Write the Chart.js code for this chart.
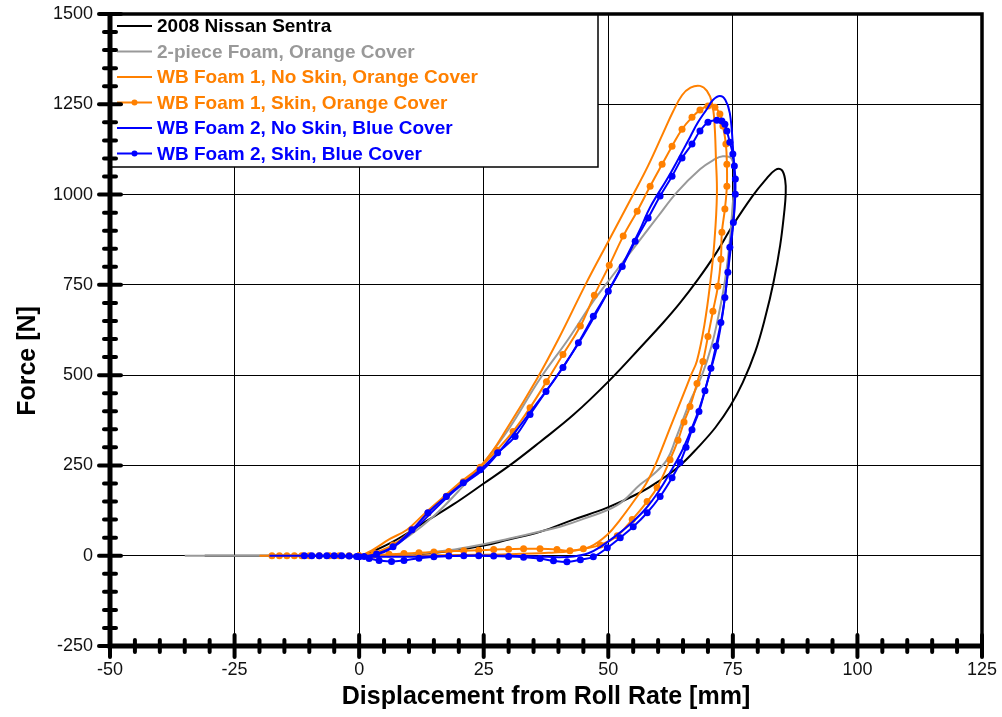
<!DOCTYPE html>
<html>
<head>
<meta charset="utf-8">
<script src="https://cdn.jsdelivr.net/npm/chart.js@4.4.0/dist/chart.umd.min.js"></script>
<style>
  body { margin: 0; background: #fff; }
  canvas { display: block; }
</style>
</head>
<body>
<canvas id="forceChart" width="1002" height="717"></canvas>
<script>
// valeurs (mm, N)
const xTicks = [-50, -25, 0, 25, 50, 75, 100, 125];
const yTicks = [-250, 0, 250, 500, 750, 1000, 1250, 1500];

const sentraX = [-31, -15, 0, 1.2, 6.8, 12.9, 18.9, 25, 30.7, 36.3, 43, 50, 57, 61, 64.4, 68, 71.5, 75, 78.9, 81.5, 83.5, 84.8, 85.5, 85.6, 85.3, 84.5, 83.2, 81.5, 79.5, 77, 74.5, 71.5, 68, 64.4, 60, 56.4, 49.8, 43, 36.3, 30, 25, 18, 12, 5];
const sentraY = [0, 0, 0, 3, 39, 91, 142, 200, 255, 315, 390, 482, 585, 645, 700, 765, 835, 915, 995, 1040, 1068, 1068, 1040, 1000, 950, 860, 760, 660, 565, 480, 415, 355, 300, 250, 205, 175, 133, 100, 66, 45, 28, 12, 4, 0];

const grayX = [-35, -15, 0, 5, 10, 15, 20, 25, 30, 36.3, 42, 47, 50, 56.4, 60, 63.8, 68.4, 71, 73, 74.8, 75.3, 74.9, 74.3, 73.4, 72.2, 70.7, 68.8, 66.2, 63.5, 61.8, 59, 56.4, 51.8, 45, 40.3, 36.3, 30, 25, 18, 10, 0];
const grayY = [0, 0, 0, 15, 55, 110, 180, 258, 350, 490, 600, 705, 760, 875, 940, 1007, 1070, 1095, 1106, 1098, 1050, 960, 860, 760, 670, 580, 500, 420, 322, 266, 225, 197, 140, 102, 80, 67, 47, 32, 15, 4, 0];

const orangeX = [-20, -10, 0, 2.8, 6, 9.6, 13, 16.3, 20, 25, 30, 35.7, 40, 45.4, 50, 55, 58, 61, 63, 64.8, 66.5, 68.4, 69.8, 70.8, 71.3, 71.6, 71.8, 71.3, 70.5, 69.3, 67.8, 66.6, 64.8, 63, 61.2, 59.4, 57.6, 55.8, 52.4, 49.8, 46.4, 43, 38, 30, 20, 10, 0];
const orangeY = [0, 0, 0, 17, 45, 72, 115, 155, 200, 258, 360, 490, 600, 750, 870, 1000, 1080, 1170, 1230, 1275, 1296, 1301, 1287, 1255, 1200, 1100, 1000, 870, 760, 640, 540, 500, 437, 375, 312, 250, 200, 164, 100, 58, 25, 14, 8, 4, 2, 0, -2];

const orangeDotX = [-17.5, -16, -14.5, -13, -11.5, -10, -8, -6, -4, -2, 0, 3, 6.8, 10.6, 13.8, 17.5, 20.9, 24.3, 27.6, 30.9, 34.3, 37.6, 40.9, 44.4, 47.2, 50.2, 53, 55.8, 58.4, 60.8, 62.8, 64.8, 66.8, 68.4, 70, 71.4, 72.4, 73, 73.6, 73.8, 73.8, 73.4, 72.8, 72.6, 72, 71, 70, 69, 67.8, 66.4, 65.2, 64, 62.4, 59.8, 57.8, 54.8, 51.8, 48.4, 45, 42.3, 39.7, 36.3, 33, 30, 27, 24, 21, 18, 15, 12, 9, 6, 3, 0];
const orangeDotY = [0, 0, 0, 0, 0, 0, 0, 0, 0, 0, 0, 8, 30, 72, 118, 165, 205, 245, 292, 344, 410, 482, 557, 636, 721, 804, 885, 954, 1023, 1084, 1134, 1181, 1214, 1234, 1245, 1242, 1223, 1190, 1140, 1084, 1023, 960, 896, 821, 746, 677, 607, 538, 477, 413, 370, 320, 266, 189, 150, 100, 55, 30, 19, 14, 17, 19, 19, 18, 17, 15, 14, 12, 10, 8, 6, 4, 2, 0];

const blueX = [-18, -10, 0, 4, 8, 12, 16, 20, 25, 30, 35, 39.3, 45, 50, 53, 56.4, 58.4, 62.4, 66.4, 68, 69.8, 71, 72.4, 73.5, 74.4, 75, 75.3, 75.3, 74.8, 74, 73, 71.8, 70, 68.4, 66.4, 64.6, 62.6, 60.2, 57.5, 54.6, 51.5, 48.5, 46, 43, 40, 36, 30, 20, 10, 0];
const blueY = [0, 0, -2, 5, 35, 85, 140, 190, 240, 320, 410, 490, 610, 732, 810, 904, 965, 1057, 1159, 1200, 1237, 1262, 1273, 1262, 1225, 1134, 1043, 965, 880, 785, 674, 580, 488, 413, 341, 285, 235, 180, 130, 90, 55, 25, 7, -2, -4, -2, 0, 0, -3, -2];

const blueDotX = [-11, -9.5, -8, -6.5, -5, -3.5, -2, -0.5, 1, 3.5, 6.8, 10.6, 13.8, 17.5, 20.9, 24.3, 27.8, 31.3, 34.3, 37.5, 40.9, 44, 47, 50, 52.8, 55.4, 58, 60.4, 62.8, 64.8, 66.8, 68.4, 70, 71.8, 72.8, 73.4, 73.8, 74.4, 75, 75.3, 75.5, 75.5, 75.1, 74.4, 74, 73.4, 72.6, 71.6, 70.6, 69.4, 68.2, 66.8, 65.6, 64.4, 62.8, 60.4, 57.8, 55, 52.4, 49.8, 47, 44.4, 41.7, 39, 36.3, 33, 30, 27, 24, 21, 18, 15, 12, 9, 6.5, 4, 2, 0];
const blueDotY = [0, 0, 0, 0, 0, 0, -1, -2, -2, 5, 25, 72, 119, 164, 202, 238, 285, 330, 391, 455, 521, 590, 663, 732, 801, 871, 935, 996, 1051, 1101, 1140, 1176, 1200, 1206, 1204, 1195, 1176, 1145, 1112, 1079, 1043, 1001, 923, 854, 785, 715, 646, 580, 519, 457, 399, 349, 300, 258, 216, 164, 119, 80, 50, 22, -3, -11, -17, -14, -8, -4, -2, -1, 0, 0, -1, -3, -7, -13, -16, -13, -8, -3];

const FONT = '"Liberation Sans", Arial, sans-serif';

function pts(xs, ys) {
  return xs.map((x, i) => ({ x: x, y: ys[i] }));
}

function serie(label, xs, ys, color, dots, order) {
  return {
    label: label,
    data: pts(xs, ys),
    showLine: true,
    borderColor: color,
    backgroundColor: color,
    borderWidth: 2,
    tension: 0.4,
    pointRadius: dots ? 3.5 : 0,
    pointHoverRadius: 0,
    pointBorderWidth: 0,
    order: order
  };
}

// légende encadrée, titre Y, cadre épais avec graduations
const cadre = {
  id: 'cadre',
  afterDatasetsDraw(chart) {
    const ctx = chart.ctx;
    const a = chart.chartArea;
    const xs = chart.scales.x, ys = chart.scales.y;
    ctx.save();

    // légende
    ctx.fillStyle = '#fff';
    ctx.fillRect(a.left, a.top, 488, 153);
    ctx.strokeStyle = '#000';
    ctx.lineWidth = 1.5;
    ctx.strokeRect(a.left, a.top, 488, 153);
    ctx.font = 'bold 19px ' + FONT;
    ctx.textBaseline = 'middle';
    ctx.textAlign = 'left';
    chart.data.datasets.forEach((ds, i) => {
      const y = a.top + 12 + i * 25.5;
      ctx.strokeStyle = ds.borderColor;
      ctx.lineWidth = 2;
      ctx.beginPath();
      ctx.moveTo(a.left + 7, y);
      ctx.lineTo(a.left + 42, y);
      ctx.stroke();
      if (ds.pointRadius > 0) {
        ctx.fillStyle = ds.borderColor;
        ctx.beginPath();
        ctx.arc(a.left + 24.5, y, 3, 0, Math.PI * 2);
        ctx.fill();
      }
      ctx.fillStyle = ds.borderColor;
      ctx.fillText(ds.label, a.left + 47, y + 1);
    });

    // titre de l'axe Y (un peu sous le centre, comme l'original)
    ctx.save();
    ctx.translate(28, 361);
    ctx.rotate(-Math.PI / 2);
    ctx.font = 'bold 25px ' + FONT;
    ctx.fillStyle = '#000';
    ctx.textAlign = 'center';
    ctx.textBaseline = 'middle';
    ctx.fillText('Force [N]', 0, 0);
    ctx.restore();

    // cadre
    ctx.strokeStyle = '#000';
    ctx.lineCap = 'butt';
    ctx.lineWidth = 3.5;
    ctx.beginPath();
    ctx.moveTo(a.left, a.top);
    ctx.lineTo(a.right, a.top);
    ctx.lineTo(a.right, a.bottom);
    ctx.stroke();
    ctx.lineWidth = 5;
    ctx.beginPath();
    ctx.moveTo(a.left, a.top - 1.5);
    ctx.lineTo(a.left, a.bottom);
    ctx.lineTo(a.right + 1.5, a.bottom);
    ctx.stroke();

    // graduations
    ctx.lineWidth = 4;
    ctx.lineCap = 'round';
    for (let v = -50; v <= 125; v += 5) {
      const px = xs.getPixelForValue(v);
      const h = v % 25 === 0 ? 11 : 6;
      ctx.beginPath();
      ctx.moveTo(px, a.bottom - h);
      ctx.lineTo(px, a.bottom + h);
      ctx.stroke();
    }
    for (let v = -250; v <= 1500; v += 50) {
      const py = ys.getPixelForValue(v);
      const w = v % 250 === 0 ? 11 : 6;
      ctx.beginPath();
      ctx.moveTo(a.left - w, py);
      ctx.lineTo(a.left + w, py);
      ctx.stroke();
    }
    ctx.restore();
  }
};

new Chart(document.getElementById('forceChart'), {
  type: 'scatter',
  data: {
    datasets: [
      serie('2008 Nissan Sentra', sentraX, sentraY, '#000000', false, 6),
      serie('2-piece Foam, Orange Cover', grayX, grayY, '#999999', false, 5),
      serie('WB Foam 1, No Skin, Orange Cover', orangeX, orangeY, '#ff8000', false, 4),
      serie('WB Foam 1, Skin, Orange Cover', orangeDotX, orangeDotY, '#ff8000', true, 3),
      serie('WB Foam 2, No Skin, Blue Cover', blueX, blueY, '#0000ff', false, 2),
      serie('WB Foam 2, Skin, Blue Cover', blueDotX, blueDotY, '#0000ff', true, 1)
    ]
  },
  options: {
    responsive: false,
    devicePixelRatio: 1,
    animation: false,
    layout: { padding: { top: 14, right: 20, left: 0, bottom: 0 } },
    plugins: {
      legend: { display: false },
      tooltip: { enabled: false }
    },
    scales: {
      x: {
        type: 'linear',
        min: xTicks[0],
        max: xTicks[xTicks.length - 1],
        afterBuildTicks: s => { s.ticks = xTicks.map(v => ({ value: v })); },
        afterFit: s => { s.height = 71; s.paddingLeft = 0; s.paddingRight = 0; },
        ticks: { color: '#111', font: { family: FONT, size: 18 }, padding: 13, maxRotation: 0, callback: v => String(v) },
        grid: { color: '#000', lineWidth: 1, drawTicks: false },
        border: { display: false },
        title: {
          display: true,
          text: 'Displacement from Roll Rate [mm]',
          color: '#000',
          font: { family: FONT, size: 25, weight: 'bold' },
          padding: { top: 0, bottom: 5 }
        }
      },
      y: {
        type: 'linear',
        min: yTicks[0],
        max: yTicks[yTicks.length - 1],
        afterBuildTicks: s => { s.ticks = yTicks.map(v => ({ value: v })); },
        afterFit: s => { s.width = 110; s.paddingTop = 0; s.paddingBottom = 0; },
        ticks: { color: '#111', font: { family: FONT, size: 18 }, padding: 17, callback: v => String(v) },
        grid: { color: '#000', lineWidth: 1, drawTicks: false },
        border: { display: false },
        title: { display: false }
      }
    }
  },
  plugins: [cadre]
});
</script>
</body>
</html>
